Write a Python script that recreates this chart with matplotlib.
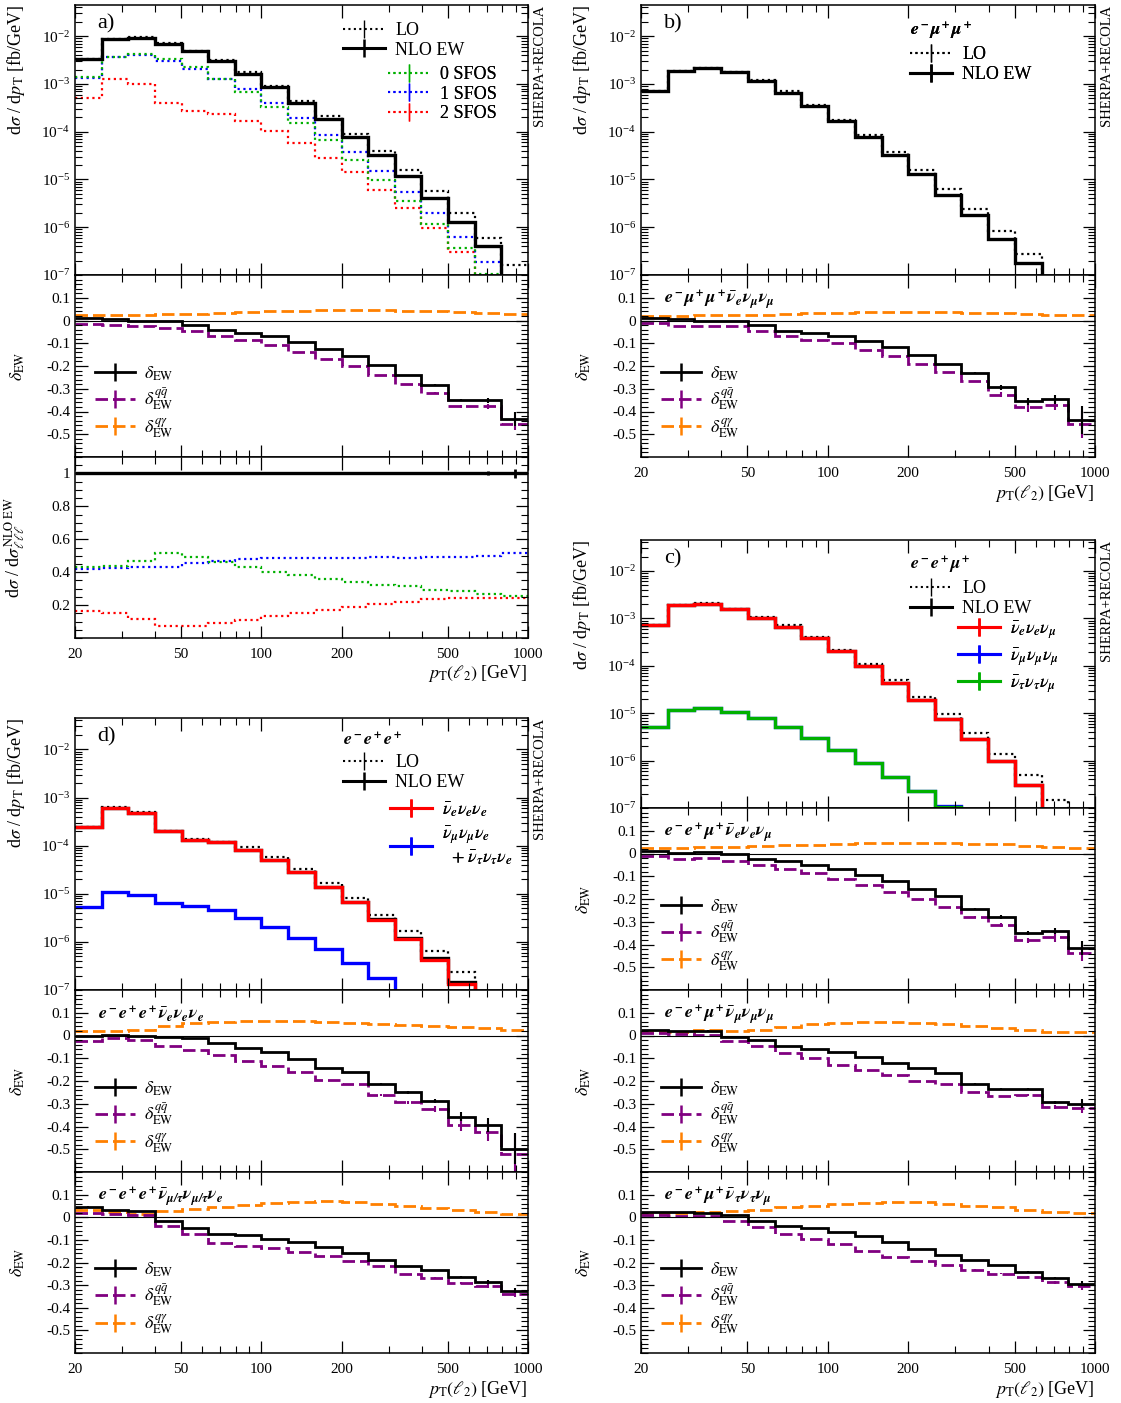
import numpy as np
import matplotlib
matplotlib.use("Agg")
import matplotlib.pyplot as plt
from matplotlib.ticker import FixedLocator, FixedFormatter, NullFormatter, LogLocator, MultipleLocator, FuncFormatter
from matplotlib.lines import Line2D

plt.rcParams['font.family'] = ['Liberation Serif', 'DejaVu Serif']
plt.rcParams['mathtext.fontset'] = 'stix'
plt.rcParams['axes.unicode_minus'] = False

W, H = 1121, 1403

# bin edges of pT(l2) [GeV]
edges = np.array([20, 25.2, 31.7, 39.9, 50.2, 63.2, 79.5, 100, 126, 159, 200,
                  251, 316, 398, 501, 631, 794, 1000])
centers = np.sqrt(edges[:-1] * edges[1:])

# ---- a) all channels ----
a_lo = [3.4e-3, 8.8e-3, 9.5e-3, 7.1e-3, 4.9e-3, 3.1e-3, 1.8e-3, 9.2e-4, 4.5e-4, 2.1e-4,
        9.1e-5, 3.9e-5, 1.55e-5, 5.8e-6, 2.0e-6, 6.0e-7, 1.65e-7]
a_nlo = [3.3e-3, 8.6e-3, 9.3e-3, 6.9e-3, 4.8e-3, 3.0e-3, 1.6e-3, 8.7e-4, 4.0e-4, 1.85e-4,
         7.9e-5, 3.2e-5, 1.17e-5, 4.0e-6, 1.3e-6, 4.0e-7, 5e-8]
a_0sfos = [1.4e-3, 3.7e-3, 4.3e-3, 3.4e-3, 2.3e-3, 1.3e-3, 6.8e-4, 3.3e-4, 1.5e-4, 6.6e-5,
           2.6e-5, 9.8e-6, 3.6e-6, 1.15e-6, 3.6e-7, 1.05e-7, 3e-8]
a_1sfos = [1.35e-3, 3.6e-3, 4.1e-3, 3.0e-3, 2.1e-3, 1.3e-3, 7.7e-4, 4.0e-4, 1.95e-4, 8.6e-5,
           3.7e-5, 1.5e-5, 5.6e-6, 1.95e-6, 6.2e-7, 1.9e-7, 3e-8]
a_2sfos = [5.1e-4, 1.25e-3, 9.8e-4, 4.0e-4, 2.7e-4, 2.3e-4, 1.65e-4, 1.02e-4, 5.7e-5, 2.8e-5,
           1.4e-5, 6.0e-6, 2.5e-6, 9.5e-7, 3.1e-7, 9e-8, 2e-8]
a_d_ew = [0.010, 0.007, 0.000, -0.004, -0.019, -0.040, -0.054, -0.069, -0.096, -0.125,
          -0.157, -0.194, -0.240, -0.284, -0.350, -0.351, -0.434]
a_d_qq = [-0.015, -0.018, -0.022, -0.034, -0.044, -0.069, -0.084, -0.107, -0.137, -0.169,
          -0.199, -0.240, -0.279, -0.319, -0.378, -0.378, -0.453]
a_d_qa = [0.022, 0.022, 0.024, 0.027, 0.030, 0.034, 0.037, 0.040, 0.043, 0.045,
          0.046, 0.045, 0.043, 0.040, 0.036, 0.031, 0.027]
a_e_ew = [0, 0, 0, 0, 0, 0, 0, 0, 0, 0, 0, 0, 0.002, 0.003, 0.005, 0.01, 0.03]
a_e_qq = [0, 0, 0, 0, 0, 0, 0, 0, 0, 0, 0, 0, 0.002, 0.003, 0.006, 0.012, 0.03]
a_f_nlo = [1.0] * 17
a_f_err = [0, 0, 0, 0, 0, 0, 0, 0, 0, 0, 0, 0, 0, 0, 0.006, 0.012, 0.03]
a_f_0 = [0.434, 0.44, 0.47, 0.514, 0.494, 0.464, 0.43, 0.404, 0.382, 0.36,
         0.34, 0.324, 0.314, 0.294, 0.284, 0.27, 0.256]
a_f_1 = [0.422, 0.428, 0.434, 0.434, 0.454, 0.468, 0.478, 0.484, 0.488, 0.488,
         0.488, 0.494, 0.488, 0.492, 0.492, 0.498, 0.514]
a_f_2 = [0.164, 0.152, 0.114, 0.07, 0.07, 0.09, 0.11, 0.134, 0.152, 0.168,
         0.188, 0.204, 0.22, 0.234, 0.244, 0.244, 0.244]

# ---- b) e- mu+ mu+ ----
b_lo = [7.1e-4, 1.9e-3, 2.2e-3, 1.8e-3, 1.2e-3, 7.0e-4, 3.7e-4, 1.8e-4, 8.5e-5, 3.8e-5,
        1.55e-5, 6.2e-6, 2.4e-6, 8.5e-7, 2.8e-7, 8e-8, 2e-8]
b_nlo = [7.0e-4, 1.85e-3, 2.15e-3, 1.75e-3, 1.15e-3, 6.6e-4, 3.5e-4, 1.65e-4, 7.7e-5, 3.3e-5,
         1.3e-5, 4.8e-6, 1.8e-6, 5.7e-7, 1.75e-7, 5e-8, 1e-8]
b_d_ew = [0.010, 0.007, -0.003, -0.004, -0.020, -0.044, -0.056, -0.066, -0.091, -0.118,
          -0.151, -0.190, -0.232, -0.294, -0.356, -0.346, -0.437]
b_d_qq = [-0.010, -0.022, -0.026, -0.026, -0.044, -0.069, -0.085, -0.099, -0.128, -0.157,
          -0.191, -0.228, -0.268, -0.326, -0.382, -0.372, -0.456]
b_d_qa = [0.020, 0.020, 0.022, 0.024, 0.026, 0.029, 0.032, 0.035, 0.037, 0.038,
          0.038, 0.037, 0.035, 0.032, 0.029, 0.026, 0.024]
b_e_ew = [0, 0, 0, 0, 0, 0, 0, 0, 0, 0, 0, 0, 0.004, 0.01, 0.015, 0.02, 0.06]
b_e_qq = [0, 0, 0, 0, 0, 0, 0, 0, 0, 0, 0, 0, 0.004, 0.01, 0.02, 0.02, 0.06]

# ---- c) e- e+ mu+ ----
c_lo = [7.2e-4, 1.9e-3, 2.1e-3, 1.6e-3, 1.07e-3, 7.2e-4, 4.1e-4, 2.2e-4, 1.08e-4, 5.0e-5,
        2.2e-5, 9.5e-6, 3.8e-6, 1.4e-6, 5.0e-7, 1.45e-7, 4e-8]
c_nlo = [7.1e-4, 1.9e-3, 2.05e-3, 1.55e-3, 1.03e-3, 6.7e-4, 3.9e-4, 2.05e-4, 1.0e-4, 4.4e-5,
         1.9e-5, 7.6e-6, 2.8e-6, 1.0e-6, 3.0e-7, 6e-8, 1e-8]
c_ee = [7.1e-4, 1.9e-3, 2.05e-3, 1.55e-3, 1.03e-3, 6.7e-4, 3.9e-4, 2.05e-4, 1.0e-4, 4.4e-5,
        1.9e-5, 7.6e-6, 2.8e-6, 1.0e-6, 3.0e-7, 6e-8, 1e-8]
c_mm = [5.1e-6, 1.14e-5, 1.3e-5, 1.08e-5, 8.0e-6, 5.1e-6, 3.0e-6, 1.7e-6, 8.9e-7, 4.5e-7,
        2.3e-7, 1.1e-7, 4e-8, 1e-8, 1e-8, 1e-8, 1e-8]
c_tt = [5.1e-6, 1.14e-5, 1.3e-5, 1.08e-5, 8.0e-6, 5.1e-6, 3.0e-6, 1.7e-6, 8.9e-7, 4.5e-7,
        2.3e-7, 1.05e-7, 4e-8, 1e-8, 1e-8, 1e-8, 1e-8]
c1_d_ew = [0.012, 0.003, 0.007, -0.004, -0.022, -0.034, -0.049, -0.069, -0.096, -0.122,
           -0.154, -0.188, -0.243, -0.279, -0.349, -0.341, -0.415]
c1_d_qq = [-0.012, -0.022, -0.019, -0.034, -0.051, -0.066, -0.084, -0.110, -0.137, -0.169,
           -0.199, -0.235, -0.279, -0.313, -0.382, -0.368, -0.437]
c1_d_qa = [0.025, 0.025, 0.027, 0.030, 0.033, 0.036, 0.039, 0.042, 0.044, 0.045,
           0.046, 0.046, 0.043, 0.040, 0.035, 0.030, 0.026]
c1_e_ew = [0, 0, 0, 0, 0, 0, 0, 0, 0, 0, 0, 0, 0.003, 0.008, 0.008, 0.015, 0.03]
c1_e_qq = [0, 0, 0, 0, 0, 0, 0, 0, 0, 0, 0, 0, 0.003, 0.008, 0.01, 0.02, 0.035]
c2_d_ew = [0.024, 0.019, 0.019, -0.006, -0.018, -0.044, -0.059, -0.074, -0.094, -0.121,
           -0.143, -0.165, -0.212, -0.235, -0.235, -0.294, -0.300]
c2_d_qq = [0.009, 0.007, 0.004, -0.025, -0.047, -0.076, -0.101, -0.128, -0.153, -0.175,
           -0.199, -0.213, -0.250, -0.268, -0.260, -0.315, -0.319]
c2_d_qa = [0.015, 0.015, 0.026, 0.019, 0.026, 0.037, 0.049, 0.056, 0.060, 0.060,
           0.056, 0.049, 0.041, 0.034, 0.026, 0.016, 0.016]
c2_e_ew = [0, 0, 0.004, 0, 0, 0, 0, 0, 0, 0, 0, 0, 0.002, 0.004, 0.005, 0.008, 0.02]
c2_e_qq = [0, 0, 0, 0, 0, 0, 0, 0, 0, 0, 0, 0, 0.002, 0.004, 0.005, 0.01, 0.02]
c3_d_ew = [0.025, 0.022, 0.018, 0.010, -0.018, -0.037, -0.049, -0.066, -0.081, -0.110,
           -0.140, -0.169, -0.191, -0.213, -0.243, -0.268, -0.294]
c3_d_qq = [0.010, 0.007, 0.004, -0.018, -0.044, -0.074, -0.096, -0.118, -0.147, -0.174,
           -0.194, -0.213, -0.232, -0.250, -0.265, -0.287, -0.306]
c3_d_qa = [0.015, 0.018, 0.025, 0.029, 0.034, 0.044, 0.051, 0.059, 0.062, 0.069,
           0.069, 0.059, 0.051, 0.044, 0.034, 0.025, 0.019]
c3_e_ew = [0, 0, 0, 0, 0, 0, 0, 0, 0, 0, 0, 0, 0.002, 0.003, 0.004, 0.006, 0.012]
c3_e_qq = [0, 0, 0, 0, 0, 0, 0, 0, 0, 0, 0, 0, 0.002, 0.003, 0.004, 0.006, 0.015]

# ---- d) e- e+ e+ ----
d_lo = [2.5e-4, 6.3e-4, 4.9e-4, 2.05e-4, 1.4e-4, 1.22e-4, 9.2e-5, 5.8e-5, 3.3e-5, 1.7e-5,
        8.2e-6, 3.7e-6, 1.65e-6, 6.5e-7, 2.4e-7, 5e-8, 1e-8]
d_nlo = [2.5e-4, 6.2e-4, 4.8e-4, 2.0e-4, 1.34e-4, 1.17e-4, 8.2e-5, 5.1e-5, 2.8e-5, 1.4e-5,
         6.8e-6, 3.0e-6, 1.22e-6, 4.6e-7, 1.5e-7, 2e-8, 1e-8]
d_ee = [2.5e-4, 6.2e-4, 4.8e-4, 2.0e-4, 1.34e-4, 1.17e-4, 8.2e-5, 5.1e-5, 2.8e-5, 1.4e-5,
        6.8e-6, 2.9e-6, 1.17e-6, 4.3e-7, 1.35e-7, 2e-8, 1e-8]
d_mt = [5.3e-6, 1.1e-5, 9.4e-6, 6.3e-6, 5.6e-6, 4.5e-6, 3.1e-6, 2.0e-6, 1.2e-6, 7.1e-7,
        3.6e-7, 1.8e-7, 3e-8, 1e-8, 1e-8, 1e-8, 1e-8]
d1_d_ew = [-0.004, 0.004, -0.003, -0.007, -0.010, -0.034, -0.054, -0.074, -0.103, -0.143,
           -0.162, -0.213, -0.250, -0.287, -0.357, -0.394, -0.497]
d1_d_qq = [-0.022, -0.012, -0.019, -0.044, -0.063, -0.085, -0.113, -0.132, -0.162, -0.196,
           -0.213, -0.262, -0.294, -0.324, -0.393, -0.422, -0.522]
d1_d_qa = [0.019, 0.019, 0.022, 0.040, 0.054, 0.059, 0.063, 0.063, 0.063, 0.059,
           0.054, 0.051, 0.047, 0.041, 0.037, 0.032, 0.026]
d1_e_ew = [0, 0, 0, 0, 0, 0, 0, 0, 0, 0, 0, 0.004, 0.005, 0.01, 0.02, 0.03, 0.07]
d1_e_qq = [0, 0, 0, 0, 0, 0, 0, 0, 0, 0, 0, 0.004, 0.006, 0.012, 0.025, 0.04, 0.09]
d2_d_ew = [0.044, 0.034, 0.026, -0.015, -0.047, -0.072, -0.079, -0.094, -0.110, -0.131,
           -0.157, -0.187, -0.216, -0.235, -0.263, -0.285, -0.324]
d2_d_qq = [0.019, 0.016, 0.012, -0.040, -0.076, -0.113, -0.128, -0.135, -0.154, -0.172,
           -0.194, -0.216, -0.253, -0.268, -0.290, -0.304, -0.338]
d2_d_qa = [0.031, 0.022, 0.015, 0.026, 0.038, 0.047, 0.056, 0.063, 0.068, 0.071,
           0.068, 0.060, 0.051, 0.041, 0.031, 0.022, 0.015]
d2_e_ew = [0.004, 0, 0, 0, 0, 0, 0, 0, 0, 0, 0, 0, 0.002, 0.003, 0.004, 0.008, 0.012]
d2_e_qq = [0, 0, 0, 0, 0, 0, 0, 0, 0, 0, 0, 0, 0.002, 0.003, 0.005, 0.008, 0.015]

GREEN = '#00b000'
BLUE = '#0000ff'
RED = '#ff0000'
PURPLE = '#800080'
ORANGE = '#ff8000'
DOT = (0, (1, 1.6))
DASH = (0, (4.5, 1.8))

fig = plt.figure(figsize=(W / 100, H / 100), dpi=100)


def rect(x0, y0, x1, y1):
    return [x0 / W, 1 - y1 / H, (x1 - x0) / W, (y1 - y0) / H]


def setup_x(ax, labels=False):
    ax.set_xscale('log')
    ax.set_xlim(20, 1000)
    ax.xaxis.set_major_locator(FixedLocator([20, 50, 100, 200, 500, 1000]))
    ax.xaxis.set_minor_locator(FixedLocator([30, 40, 60, 70, 80, 90, 300, 400, 600, 700, 800, 900]))
    ax.xaxis.set_minor_formatter(NullFormatter())
    if labels:
        ax.xaxis.set_major_formatter(FixedFormatter(['20', '50', '100', '200', '500', '1000']))
        ax.set_xlabel(r'$p_{\rm T}(\ell_2)$ [GeV]', loc='right', fontsize=13, labelpad=2)
    else:
        ax.xaxis.set_major_formatter(NullFormatter())
    ax.tick_params(which='both', direction='in', top=True, right=True, labelsize=11)
    ax.tick_params(axis='x', pad=7)
    ax.tick_params(which='major', length=9, width=0.9)
    ax.tick_params(which='minor', length=5, width=0.8)
    for s in ax.spines.values():
        s.set_linewidth(1.1)


def main_panel(ax, tag):
    setup_x(ax)
    ax.set_yscale('log')
    ax.set_ylim(1e-7, 4.5e-2)
    ax.yaxis.set_major_locator(LogLocator(base=10, numticks=20))
    ax.yaxis.set_minor_locator(LogLocator(base=10, subs=np.arange(2, 10), numticks=100))
    ax.yaxis.set_minor_formatter(NullFormatter())
    ax.set_ylabel(r'd$\sigma$ / d$p_{\rm T}$ [fb/GeV]', loc='top', fontsize=13)
    ax.yaxis.set_label_coords(-0.105, 1.0)
    ax.text(0.05, 0.93, tag, transform=ax.transAxes, fontsize=16, va='center')
    ax.text(1.012, 1.0, 'SHERPA+RECOLA', transform=ax.transAxes, rotation=90,
            va='top', ha='left', fontsize=10.5)


def fmt_delta(v, pos):
    if abs(v) < 1e-9:
        return '0'
    return '%.1f' % v


def delta_panel(ax, ew, qq, qa, e_ew, e_qq, proc=None, labels=False):
    setup_x(ax, labels)
    ax.set_ylim(-0.6, 0.2)
    ax.yaxis.set_major_locator(FixedLocator([0.1, 0, -0.1, -0.2, -0.3, -0.4, -0.5]))
    ax.yaxis.set_major_formatter(FuncFormatter(fmt_delta))
    ax.yaxis.set_minor_locator(MultipleLocator(0.02))
    ax.axhline(0, color='k', lw=0.8)
    ax.stairs(qa, edges, baseline=None, color=ORANGE, lw=2, ls=DASH)
    ax.stairs(qq, edges, baseline=None, color=PURPLE, lw=2, ls=DASH)
    ax.errorbar(centers, qq, yerr=e_qq, fmt='none', ecolor=PURPLE, elinewidth=1.5)
    ax.stairs(ew, edges, baseline=None, color='k', lw=2)
    ax.errorbar(centers, ew, yerr=e_ew, fmt='none', ecolor='k', elinewidth=1.5)
    ax.set_ylabel(r'$\delta_{\rm EW}$', fontsize=13)
    ax.yaxis.set_label_coords(-0.105, 0.5)
    if proc is not None:
        ax.text(0.05, 0.865, proc, transform=ax.transAxes, fontsize=13, va='center')
    hs = [Line2D([], [], color='k', lw=2, marker='|', ms=13, mew=1.8),
          Line2D([], [], color=PURPLE, lw=2, ls=DASH, marker='|', ms=13, mew=1.8),
          Line2D([], [], color=ORANGE, lw=2, ls=DASH, marker='|', ms=13, mew=1.8)]
    ls = [r'$\delta_{\rm EW}$', r'$\delta^{q\bar{q}}_{\rm EW}$', r'$\delta^{q\gamma}_{\rm EW}$']
    ax.legend(hs, ls, loc='upper left', bbox_to_anchor=(0.045, 0.51), frameon=False,
              fontsize=13, handlelength=2.2, handletextpad=0.5, labelspacing=0.22,
              borderpad=0, borderaxespad=0)


def add_leg(ax, handles, labels, x, y, title=None, spacing=0.15):
    leg = ax.legend(handles, labels, loc='upper left', bbox_to_anchor=(x / W, 1 - y / H),
                    bbox_transform=fig.transFigure, frameon=False, fontsize=13,
                    handlelength=2.3, handletextpad=0.6, labelspacing=spacing,
                    borderpad=0, borderaxespad=0, title=title, title_fontsize=13,
                    alignment='left')
    leg._legend_box.sep = 3
    ax.add_artist(leg)


def h_line(color, ls='-', lw=2.2, mew=1.8):
    return Line2D([], [], color=color, ls=ls, lw=lw, marker='|', ms=13, mew=mew)


def bnu(sub):
    # bold italic antineutrino with its flavour subscript
    return r'\bar{\mathbfit{\nu}}_{\mathbfit{' + sub + '}}'


# ================= a) =================
ax = fig.add_axes(rect(75, 5, 528, 275))
main_panel(ax, 'a)')
ax.stairs(a_2sfos, edges, baseline=None, color=RED, lw=1.6, ls=DOT)
ax.stairs(a_1sfos, edges, baseline=None, color=BLUE, lw=1.6, ls=DOT)
ax.stairs(a_0sfos, edges, baseline=None, color=GREEN, lw=1.6, ls=DOT)
ax.stairs(a_lo, edges, baseline=None, color='k', lw=1.6, ls=DOT)
ax.stairs(a_nlo, edges, baseline=None, color='k', lw=2.4)
add_leg(ax, [h_line('k', DOT, 1.5, 1), h_line('k')], ['LO', 'NLO EW'], 343, 22)
add_leg(ax, [h_line(GREEN, DOT, 1.5, 1), h_line(BLUE, DOT, 1.5, 1), h_line(RED, DOT, 1.5, 1)],
        ['0 SFOS', '1 SFOS', '2 SFOS'], 388, 66)

ax = fig.add_axes(rect(75, 275, 528, 457))
delta_panel(ax, a_d_ew, a_d_qq, a_d_qa, a_e_ew, a_e_qq)

ax = fig.add_axes(rect(75, 457, 528, 638))
setup_x(ax, labels=True)
ax.set_ylim(0.0, 1.1)
ax.yaxis.set_major_locator(FixedLocator([0.2, 0.4, 0.6, 0.8, 1.0]))
ax.yaxis.set_major_formatter(FixedFormatter(['0.2', '0.4', '0.6', '0.8', '1']))
ax.yaxis.set_minor_locator(MultipleLocator(0.05))
ax.stairs(a_f_2, edges, baseline=None, color=RED, lw=1.6, ls=DOT)
ax.stairs(a_f_1, edges, baseline=None, color=BLUE, lw=1.6, ls=DOT)
ax.stairs(a_f_0, edges, baseline=None, color=GREEN, lw=1.6, ls=DOT)
ax.stairs(a_f_nlo, edges, baseline=None, color='k', lw=2.4)
ax.errorbar(centers, a_f_nlo, yerr=a_f_err, fmt='none', ecolor='k', elinewidth=2)
ax.set_ylabel(r'd$\sigma$ / d$\sigma^{\rm NLO\ EW}_{\ell\ell\ell}$', fontsize=13)
ax.yaxis.set_label_coords(-0.105, 0.5)

# ================= b) =================
ax = fig.add_axes(rect(641, 5, 1095, 275))
main_panel(ax, 'b)')
ax.stairs(b_lo, edges, baseline=None, color='k', lw=1.6, ls=DOT)
ax.stairs(b_nlo, edges, baseline=None, color='k', lw=2.4)
add_leg(ax, [h_line('k', DOT, 1.5, 1), h_line('k')], ['LO', 'NLO EW'], 910, 21,
        title=r'$\mathbfit{e^-\mu^+\mu^+}$')

ax = fig.add_axes(rect(641, 275, 1095, 457))
delta_panel(ax, b_d_ew, b_d_qq, b_d_qa, b_e_ew, b_e_qq,
            proc=r'$\mathbfit{e^-\mu^+\mu^+}' + bnu('e') + r'\mathbfit{\nu_\mu\nu_\mu}$', labels=True)

# ================= c) =================
ax = fig.add_axes(rect(641, 540, 1095, 808))
main_panel(ax, 'c)')
ax.stairs(c_lo, edges, baseline=None, color='k', lw=1.6, ls=DOT)
ax.stairs(c_nlo, edges, baseline=None, color='k', lw=2.4)
ax.stairs(c_mm, edges, baseline=None, color=BLUE, lw=2.4)
ax.stairs(c_tt, edges, baseline=None, color=GREEN, lw=2.4)
ax.stairs(c_ee, edges, baseline=None, color=RED, lw=2.4)
add_leg(ax, [h_line('k', DOT, 1.5, 1), h_line('k')], ['LO', 'NLO EW'], 910, 555,
        title=r'$\mathbfit{e^-e^+\mu^+}$')
add_leg(ax, [h_line(RED), h_line(BLUE), h_line(GREEN)],
        [r'$\bar{\nu}_e\nu_e\nu_\mu$', r'$\bar{\nu}_\mu\nu_\mu\nu_\mu$', r'$\bar{\nu}_\tau\nu_\tau\nu_\mu$'],
        958, 619, spacing=0.3)

ax = fig.add_axes(rect(641, 808, 1095, 990))
delta_panel(ax, c1_d_ew, c1_d_qq, c1_d_qa, c1_e_ew, c1_e_qq,
            proc=r'$\mathbfit{e^-e^+\mu^+}' + bnu('e') + r'\mathbfit{\nu_e\nu_\mu}$')
ax = fig.add_axes(rect(641, 990, 1095, 1172))
delta_panel(ax, c2_d_ew, c2_d_qq, c2_d_qa, c2_e_ew, c2_e_qq,
            proc=r'$\mathbfit{e^-e^+\mu^+}' + bnu(r'\mu') + r'\mathbfit{\nu_\mu\nu_\mu}$')
ax = fig.add_axes(rect(641, 1172, 1095, 1353))
delta_panel(ax, c3_d_ew, c3_d_qq, c3_d_qa, c3_e_ew, c3_e_qq,
            proc=r'$\mathbfit{e^-e^+\mu^+}' + bnu(r'\tau') + r'\mathbfit{\nu_\tau\nu_\mu}$', labels=True)

# ================= d) =================
ax = fig.add_axes(rect(75, 718, 528, 990))
main_panel(ax, 'd)')
ax.stairs(d_lo, edges, baseline=None, color='k', lw=1.6, ls=DOT)
ax.stairs(d_nlo, edges, baseline=None, color='k', lw=2.4)
ax.stairs(d_mt, edges, baseline=None, color=BLUE, lw=2.4)
ax.stairs(d_ee, edges, baseline=None, color=RED, lw=2.4)
add_leg(ax, [h_line('k', DOT, 1.5, 1), h_line('k')], ['LO', 'NLO EW'], 343, 733,
        title=r'$\mathbfit{e^-e^+e^+}$')
add_leg(ax, [h_line(RED), h_line(BLUE)],
        [r'$\bar{\nu}_e\nu_e\nu_e$', r'$\bar{\nu}_\mu\nu_\mu\nu_e$' + '\n' + r'  $+\ \bar{\nu}_\tau\nu_\tau\nu_e$'],
        390, 800, spacing=0.3)

ax = fig.add_axes(rect(75, 990, 528, 1172))
delta_panel(ax, d1_d_ew, d1_d_qq, d1_d_qa, d1_e_ew, d1_e_qq,
            proc=r'$\mathbfit{e^-e^+e^+}' + bnu('e') + r'\mathbfit{\nu_e\nu_e}$')
ax = fig.add_axes(rect(75, 1172, 528, 1353))
delta_panel(ax, d2_d_ew, d2_d_qq, d2_d_qa, d2_e_ew, d2_e_qq,
            proc=r'$\mathbfit{e^-e^+e^+}' + bnu(r'\mu/\tau') + r'\mathbfit{\nu_{\mu/\tau}\nu_e}$', labels=True)

fig.savefig('out.png', dpi=100)
